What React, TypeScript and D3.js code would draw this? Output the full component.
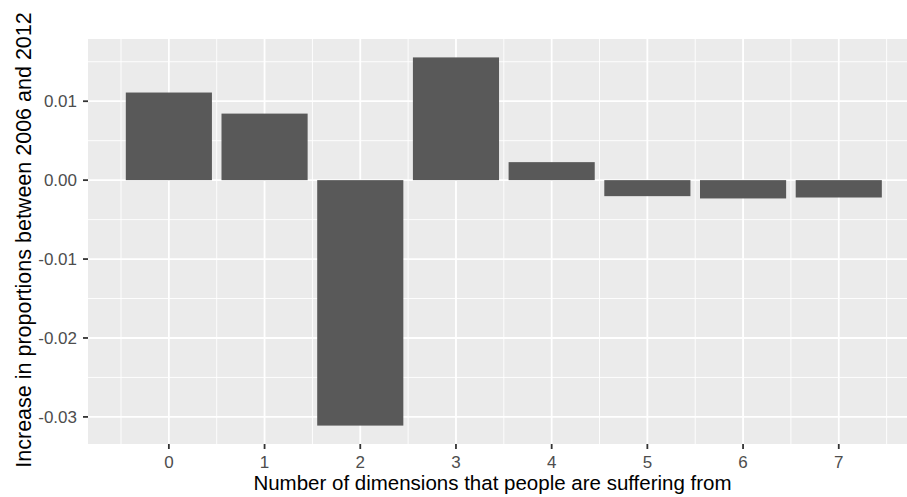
import React from "react";
import * as d3 from "d3";

const categories = [0, 1, 2, 3, 4, 5, 6, 7];
const values = [0.0111, 0.00843, -0.0311, 0.01555, 0.00228, -0.00203, -0.00232, -0.0022];
const yTicks = [-0.03, -0.02, -0.01, 0.0, 0.01];
const xTicks = [0, 1, 2, 3, 4, 5, 6, 7];
const xTitle = "Number of dimensions that people are suffering from";
const yTitle = "Increase in proportions between 2006 and 2012";

const W = 907;
const H = 497;
const panel = { left: 88, top: 39, bottom: 444 };
const barWidth = 0.9;

export default function App() {
  const xmin = d3.min(categories)! - barWidth / 2;
  const xmax = d3.max(categories)! + barWidth / 2;
  const xpad = (xmax - xmin) * 0.05;
  const step = 95.7;
  const xDomain: [number, number] = [xmin - xpad, xmax + xpad];
  const x = d3
    .scaleLinear()
    .domain(xDomain)
    .range([panel.left, panel.left + (xDomain[1] - xDomain[0]) * step]);
  const ymin = Math.min(0, d3.min(values)!);
  const ymax = Math.max(0, d3.max(values)!);
  const ypad = (ymax - ymin) * 0.05;
  const y = d3
    .scaleLinear()
    .domain([ymin - ypad, ymax + ypad])
    .range([panel.bottom, panel.top]);
  const right = x.range()[1];
  const yMinor: number[] = [];
  for (let i = 0; i < yTicks.length - 1; i++) yMinor.push((yTicks[i] + yTicks[i + 1]) / 2);
  const yDom = y.domain();
  if (yTicks[0] - 0.005 > yDom[0]) yMinor.push(yTicks[0] - 0.005);
  if (yTicks[yTicks.length - 1] + 0.005 < yDom[1]) yMinor.push(yTicks[yTicks.length - 1] + 0.005);
  const xMinor = [-0.5, ...xTicks.map((t) => t + 0.5)];
  const fmt = (v: number) => d3.format(".2f")(v).replace("\u2212", "-");
  const font = "'Liberation Sans', Arial, Helvetica, sans-serif";

  return (
    <svg width={W} height={H} style={{ position: "absolute", left: 0, top: 0 }} fontFamily={font}>
      <rect x={0} y={0} width={W} height={H} fill="#fff" />
      <rect x={panel.left} y={panel.top} width={right - panel.left} height={panel.bottom - panel.top} fill="#EBEBEB" />
      {yMinor.map((t, i) => (
        <line key={"ym" + i} x1={panel.left} x2={right} y1={y(t)} y2={y(t)} stroke="#fff" strokeWidth={0.9} />
      ))}
      {xMinor.map((t, i) => (
        <line key={"xm" + i} x1={x(t)} x2={x(t)} y1={panel.top} y2={panel.bottom} stroke="#fff" strokeWidth={0.9} />
      ))}
      {yTicks.map((t, i) => (
        <line key={"yM" + i} x1={panel.left} x2={right} y1={y(t)} y2={y(t)} stroke="#fff" strokeWidth={1.8} />
      ))}
      {xTicks.map((t, i) => (
        <line key={"xM" + i} x1={x(t)} x2={x(t)} y1={panel.top} y2={panel.bottom} stroke="#fff" strokeWidth={1.8} />
      ))}
      {categories.map((c, i) => (
        <rect
          key={"b" + i}
          x={x(c - barWidth / 2)}
          width={x(c + barWidth / 2) - x(c - barWidth / 2)}
          y={y(Math.max(0, values[i]))}
          height={Math.abs(y(values[i]) - y(0))}
          fill="#595959"
        />
      ))}
      {yTicks.map((t, i) => (
        <g key={"yt" + i}>
          <line x1={panel.left - 5} x2={panel.left} y1={y(t)} y2={y(t)} stroke="#333" strokeWidth={1.8} />
          <text x={panel.left - 11} y={y(t)} dy="0.35em" textAnchor="end" fontSize={17} fill="#4D4D4D">
            {fmt(t)}
          </text>
        </g>
      ))}
      {xTicks.map((t, i) => (
        <g key={"xt" + i}>
          <line x1={x(t)} x2={x(t)} y1={panel.bottom} y2={panel.bottom + 5} stroke="#333" strokeWidth={1.8} />
          <text x={x(t)} y={panel.bottom + 24} textAnchor="middle" fontSize={17} fill="#4D4D4D">
            {t}
          </text>
        </g>
      ))}
      <text x={(panel.left + 897) / 2} y={490} textAnchor="middle" fontSize={20.5} fill="#000">
        {xTitle}
      </text>
      <text transform={`translate(31,240) rotate(-90)`} textAnchor="middle" fontSize={21.5} fill="#000">
        {yTitle}
      </text>
    </svg>
  );
}
